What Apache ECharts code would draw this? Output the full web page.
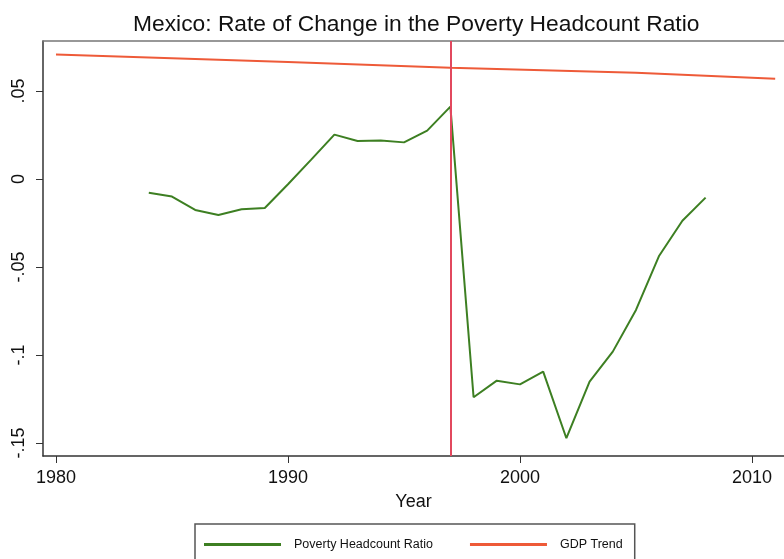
<!DOCTYPE html>
<html>
<head>
    <meta charset="UTF-8"/>
    <title>Mexico poverty rate of change</title>
    <script src="https://cdn.jsdelivr.net/npm/echarts@6/dist/echarts.min.js"></script>
    <style>
        html, body { margin: 0; padding: 0; background: #fff; }
        #chart { width: 784px; height: 559px; }
    </style>
</head>
<body>
<div id="chart"></div>
<script>
    // values
    var years = [1984, 1985, 1986, 1987, 1988, 1989, 1990, 1991, 1992, 1993, 1994, 1995, 1996,
                 1997, 1998, 1999, 2000, 2001, 2002, 2003, 2004, 2005, 2006, 2007, 2008];
    var poverty = [-0.0078, -0.0100, -0.0176, -0.0205, -0.0172, -0.0165, -0.0030, 0.0110, 0.0252,
                   0.0216, 0.0218, 0.0208, 0.0275, 0.0411, -0.1240, -0.1146, -0.1167, -0.1095,
                   -0.1473, -0.1152, -0.0981, -0.0744, -0.0436, -0.0237, -0.0106];
    var gdpYears = [1980, 1990, 1997, 2005, 2011];
    var gdpTrend = [0.0708, 0.0665, 0.0632, 0.0604, 0.0570];
    var cutoffYear = 1997;
    var xTicks = [1980, 1990, 2000, 2010];
    var yTicks = [-0.15, -0.1, -0.05, 0, 0.05];
    var yTickLabels = ['-.15', '-.1', '-.05', '0', '.05'];

    var font = 'Liberation Sans, Arial, Helvetica, sans-serif';
    var chart = echarts.init(document.getElementById('chart'));

    function pairs(xs, ys) {
        var out = [];
        for (var i = 0; i < xs.length; i++) out.push([xs[i], ys[i]]);
        return out;
    }

    var xMin = 1979.44, xMax = 2011.38;

    var option = {
        animation: false,
        backgroundColor: '#fff',
        title: {
            text: 'Mexico: Rate of Change in the Poverty Headcount Ratio',
            left: 128,
            top: 8,
            textStyle: { fontFamily: font, fontSize: 22.8, fontWeight: 'normal', color: '#111' }
        },
        grid: { left: 43, top: 41, right: 0, bottom: 103 },
        legend: {
            left: 195, top: 524,
            padding: [14, 12, 20, 9],
            itemGap: 37,
            itemWidth: 77, itemHeight: 3,
            icon: 'rect',
            borderColor: '#555', borderWidth: 1.5,
            backgroundColor: '#fff',
            textStyle: { fontFamily: font, fontSize: 12.5, color: '#111', padding: [0, 0, 0, 8] },
            data: ['Poverty Headcount Ratio', 'GDP Trend']
        },
        xAxis: [{
            type: 'value',
            min: xMin, max: xMax,
            name: 'Year',
            nameLocation: 'middle',
            nameGap: 37,
            nameTextStyle: { fontFamily: font, fontSize: 18, color: '#111' },
            splitLine: { show: false },
            axisLine: { show: true, onZero: false, lineStyle: { color: '#333', width: 1.5 } },
            axisTick: { show: true, length: 7, customValues: xTicks, lineStyle: { color: '#333', width: 1 } },
            axisLabel: {
                customValues: xTicks, margin: 13,
                fontFamily: font, fontSize: 18, color: '#111',
                formatter: function (v) { return String(v); }
            }
        }, {
            // top frame line of the plot region
            type: 'value',
            position: 'top',
            min: xMin, max: xMax,
            splitLine: { show: false },
            axisLine: { show: true, onZero: false, lineStyle: { color: '#777', width: 1.5 } },
            axisTick: { show: false },
            axisLabel: { show: false }
        }],
        yAxis: {
            type: 'value',
            min: -0.1574, max: 0.0784,
            splitLine: { show: false },
            axisLine: { show: true, onZero: false, lineStyle: { color: '#333', width: 1.5 } },
            axisTick: { show: true, length: 7, customValues: yTicks, lineStyle: { color: '#333', width: 1 } },
            axisLabel: {
                customValues: yTicks, rotate: 90, margin: 15,
                fontFamily: font, fontSize: 18, color: '#111',
                formatter: function (v) {
                    for (var i = 0; i < yTicks.length; i++) {
                        if (Math.abs(yTicks[i] - v) < 1e-9) return yTickLabels[i];
                    }
                    return '';
                }
            }
        },
        series: [
            {
                name: 'Poverty Headcount Ratio',
                type: 'line',
                data: pairs(years, poverty),
                symbol: 'none',
                color: '#3d7f22',
                lineStyle: { color: '#3d7f22', width: 2 },
                z: 3,
                markLine: {
                    silent: true,
                    symbol: 'none',
                    label: { show: false },
                    lineStyle: { color: '#e2485e', width: 2, type: 'solid' },
                    data: [{ xAxis: cutoffYear }]
                }
            },
            {
                name: 'GDP Trend',
                type: 'line',
                data: pairs(gdpYears, gdpTrend),
                symbol: 'none',
                color: '#ee5a38',
                lineStyle: { color: '#ee5a38', width: 2 },
                z: 4
            }
        ]
    };
    chart.setOption(option);
</script>
</body>
</html>
